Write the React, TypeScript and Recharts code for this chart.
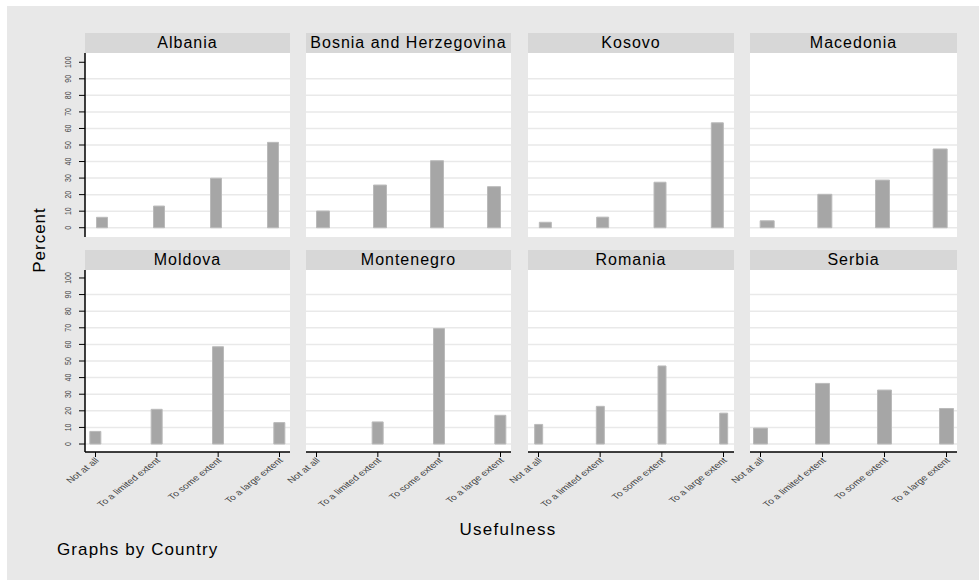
import React from 'react';
import { BarChart, Bar, XAxis, YAxis, CartesianGrid } from 'recharts';

const countries = ['Albania', 'Bosnia and Herzegovina', 'Kosovo', 'Macedonia', 'Moldova', 'Montenegro', 'Romania', 'Serbia'];
const categories = ['Not at all', 'To a limited extent', 'To some extent', 'To a large extent'];

const albania = [6.3, 13.1, 29.9, 51.6];
const bosnia = [10.1, 25.8, 40.5, 24.8];
const kosovo = [3.3, 6.4, 27.5, 63.4];
const macedonia = [4.2, 20.2, 28.8, 47.6];
const moldova = [7.6, 20.9, 58.6, 12.9];
const montenegro = [0, 13.3, 69.5, 17.3];
const romania = [11.8, 22.7, 47.0, 18.6];
const serbia = [9.6, 36.5, 32.5, 21.4];

const seriesValues = [albania, bosnia, kosovo, macedonia, moldova, montenegro, romania, serbia];
const yTicks = [0, 10, 20, 30, 40, 50, 60, 70, 80, 90, 100];
const gridTop = [90, 90, 90, 80, 90, 90, 80, 90];

// layout
const colX = [85, 306, 528, 750];
const colW = [205, 205, 206, 207];
const headTop = [33, 250];
const plotTop = [53, 270];
const plotH = [184, 182];
const yDomains: [number, number][] = [[-5.6, 105.6], [-4.8, 104.8]];
const sidePad = [17, 10.5];
const barWidths = [11, 13, 12, 14, 11, 11, 8, 14];
const STRETCH = 1.27; // the picture is wider than tall, text is stretched sideways

const FONT = '"Liberation Sans", Arial, Helvetica, sans-serif';

const YTick = (props: any) => {
  const { x, y, payload } = props;
  return (
    <text x={0} y={0} transform={`translate(${x} ${y}) scale(${STRETCH} 1) rotate(-90)`} textAnchor="middle"
      fontSize={7} fill="#444" fontFamily={FONT}>{payload.value}</text>
  );
};

const XTick = (props: any) => {
  const { x, y, payload } = props;
  const px = x + 4;
  const py = y + 2;
  return (
    <text x={0} y={0} transform={`translate(${px} ${py}) scale(${STRETCH} 1) rotate(-45)`} textAnchor="end"
      fontSize={8.2} fill="#444" fontFamily={FONT}>{categories[payload.value]}</text>
  );
};

function Panel({ name, values, i }: { name: string; values: number[]; i: number }) {
  const col = i % 4;
  const row = Math.floor(i / 4);
  const isLeft = col === 0;
  const isBottom = row === 1;
  const yAxisW = 45;
  const xAxisH = 70;
  const data = categories.map((c, k) => ({ idx: k, cat: c, value: values[k] }));
  const unit = (colW[col] - 2 * sidePad[row]) / 3;
  const dpad = sidePad[row] / unit;
  const gridVals = yTicks.filter((t) => t <= gridTop[i]);

  return (
    <>
      <div style={{
        position: 'absolute', left: colX[col], top: headTop[row], width: colW[col], height: plotTop[row] - headTop[row],
        background: '#d7d7d7', display: 'flex', alignItems: 'center', justifyContent: 'center',
        fontFamily: FONT, fontSize: 16, letterSpacing: 1, color: '#000',
      }}>{name}</div>
      <div style={{
        position: 'absolute', left: colX[col], top: plotTop[row], width: colW[col], height: plotH[row], background: '#fff',
      }} />
      <div style={{ position: 'absolute', left: colX[col] - yAxisW, top: plotTop[row] }}>
        <BarChart width={colW[col] + yAxisW} height={plotH[row] + (isBottom ? xAxisH : 0)}
          data={data} margin={{ top: 0, right: 0, bottom: 0, left: isLeft ? 0 : yAxisW }}>
          <CartesianGrid vertical={false} stroke="#e9e9e9" strokeWidth={1.5} horizontalValues={gridVals} />
          <XAxis dataKey="idx" type="number" domain={[-dpad, 3 + dpad]} ticks={[0, 1, 2, 3]}
            allowDataOverflow hide={!isBottom} height={xAxisH}
            axisLine={{ stroke: '#000', strokeWidth: 1.5 }} tickLine={{ stroke: '#000' }}
            tickSize={5} tickMargin={2} tick={<XTick />} interval={0} />
          <YAxis type="number" domain={yDomains[row]} ticks={yTicks} allowDataOverflow hide={!isLeft}
            width={yAxisW} axisLine={{ stroke: '#000', strokeWidth: 1.5 }} tickLine={{ stroke: '#000' }}
            tickSize={6} tickMargin={8} tick={<YTick />} interval={0} />
          <Bar dataKey="value" fill="#a6a6a6" stroke="#bababa" strokeWidth={1}
            barSize={barWidths[i]} isAnimationActive={false} />
        </BarChart>
      </div>
    </>
  );
}

export default function App() {
  return (
    <div style={{ position: 'absolute', left: 0, top: 0, width: 979, height: 581, background: '#fff', overflow: 'hidden' }}>
      <div style={{ position: 'absolute', left: 7, top: 6, width: 972, height: 574, background: '#e8e8e8' }} />
      {countries.map((c, i) => (
        <Panel key={c} name={c} values={seriesValues[i]} i={i} />
      ))}
      <div style={{
        position: 'absolute', left: 40, top: 240, transform: 'translate(-50%, -50%) rotate(-90deg)',
        fontFamily: FONT, fontSize: 17, letterSpacing: 1, whiteSpace: 'nowrap', color: '#000',
      }}>Percent</div>
      <div style={{
        position: 'absolute', left: 508, top: 530, transform: 'translate(-50%, -50%)',
        fontFamily: FONT, fontSize: 17, letterSpacing: 1.3, whiteSpace: 'nowrap', color: '#000',
      }}>Usefulness</div>
      <div style={{
        position: 'absolute', left: 57, top: 550, transform: 'translate(0, -50%)',
        fontFamily: FONT, fontSize: 17, letterSpacing: 1.1, whiteSpace: 'nowrap', color: '#000',
      }}>Graphs by Country</div>
    </div>
  );
}
